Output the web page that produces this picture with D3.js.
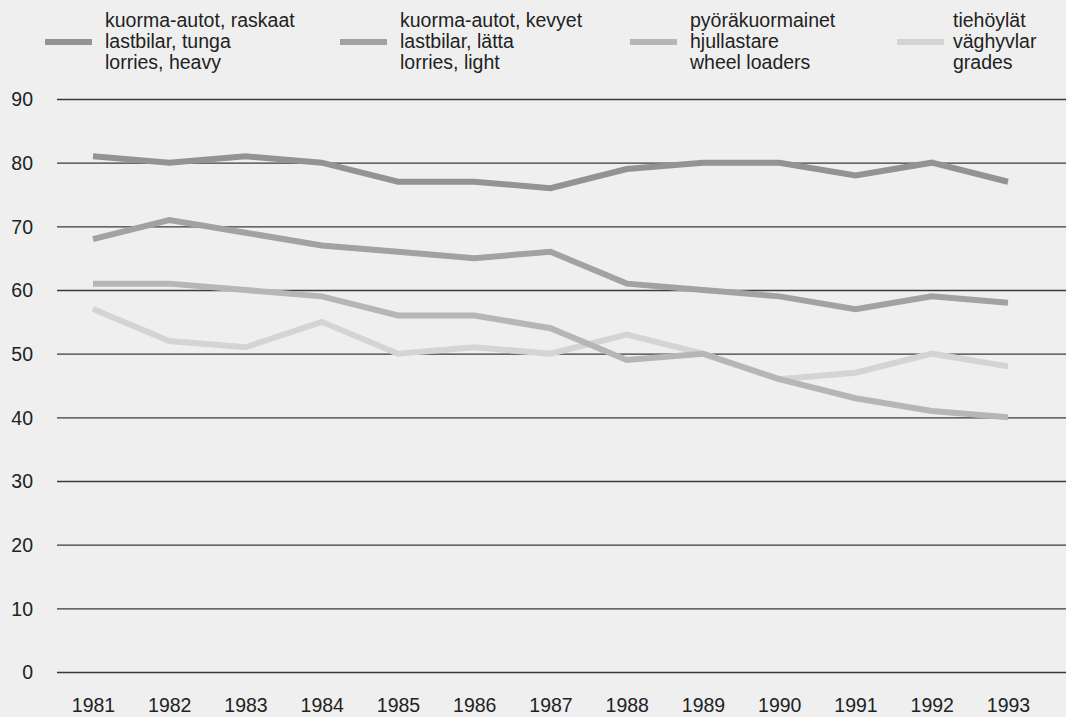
<!DOCTYPE html>
<html><head><meta charset="utf-8">
<script src="https://cdn.jsdelivr.net/npm/d3@7"></script>
<style>
html,body{margin:0;padding:0;background:#efefef;}
svg{display:block;}
text{font-family:"Liberation Sans",Arial,Helvetica,sans-serif;fill:#222;}
</style></head>
<body><svg id="c" width="1066" height="717"></svg>
<script>
const years = [1981,1982,1983,1984,1985,1986,1987,1988,1989,1990,1991,1992,1993];
const yTicks = [0,10,20,30,40,50,60,70,80,90];
const lorriesHeavy = [81,80,81,80,77,77,76,79,80,80,78,80,77];
const lorriesLight = [68,71,69,67,66,65,66,61,60,59,57,59,58];
const wheelLoaders = [61,61,60,59,56,56,54,49,50,46,43,41,40];
const grades = [57,52,51,55,50,51,50,53,50,46,47,50,48];
const seriesNames = [
  ["kuorma-autot, raskaat","lastbilar, tunga","lorries, heavy"],
  ["kuorma-autot, kevyet","lastbilar, lätta","lorries, light"],
  ["pyöräkuormainet","hjullastare","wheel loaders"],
  ["tiehöylät","väghyvlar","grades"]
];
const seriesValues = [lorriesHeavy, lorriesLight, wheelLoaders, grades];
const colors = ["#939393","#a2a2a2","#b6b6b6","#d4d4d4"];

const svg = d3.select("#c");
const x = d3.scalePoint().domain(years).range([93,1008]);
const y = d3.scaleLinear().domain([0,90]).range([672,99]);

const yAxis = d3.axisLeft(y).tickValues(yTicks).tickSize(-(1066-57)).tickPadding(24).tickFormat(d3.format("d"));
const gy = svg.append("g").attr("transform","translate(57,0)").call(yAxis);
gy.select(".domain").remove();
gy.selectAll(".tick line").attr("stroke","#3a3a3a").attr("stroke-width",1.4);
gy.selectAll(".tick text").attr("font-size",19.5).attr("fill","#222").attr("x",-24).attr("dy","0.35em").attr("text-anchor","end");

const xAxis = d3.axisBottom(x).tickSize(0).tickPadding(0);
const gx = svg.append("g").attr("transform","translate(0,705)").call(xAxis);
gx.select(".domain").remove();
gx.selectAll(".tick text").attr("font-size",19.5).attr("fill","#222").attr("dy","0.35em");

const line = d3.line().x((d,i)=>x(years[i])).y(d=>y(d));
const order = [3,2,1,0];
order.forEach(k=>{
  svg.append("path").datum(seriesValues[k]).attr("d",line)
    .attr("fill","none").attr("stroke",colors[k]).attr("stroke-width",6)
    .attr("stroke-linejoin","miter").attr("stroke-linecap","butt");
});

const legX = [45,340,630,897];
seriesNames.forEach((names,k)=>{
  const g = svg.append("g");
  g.append("line").attr("x1",legX[k]).attr("x2",legX[k]+47).attr("y1",42).attr("y2",42)
    .attr("stroke",colors[k]).attr("stroke-width",6);
  names.forEach((t,j)=>{
    g.append("text").attr("x",legX[k]+60 - (k===3?4:0)).attr("y",27+j*21)
      .attr("font-size",19.5).text(t);
  });
});
</script></body></html>
